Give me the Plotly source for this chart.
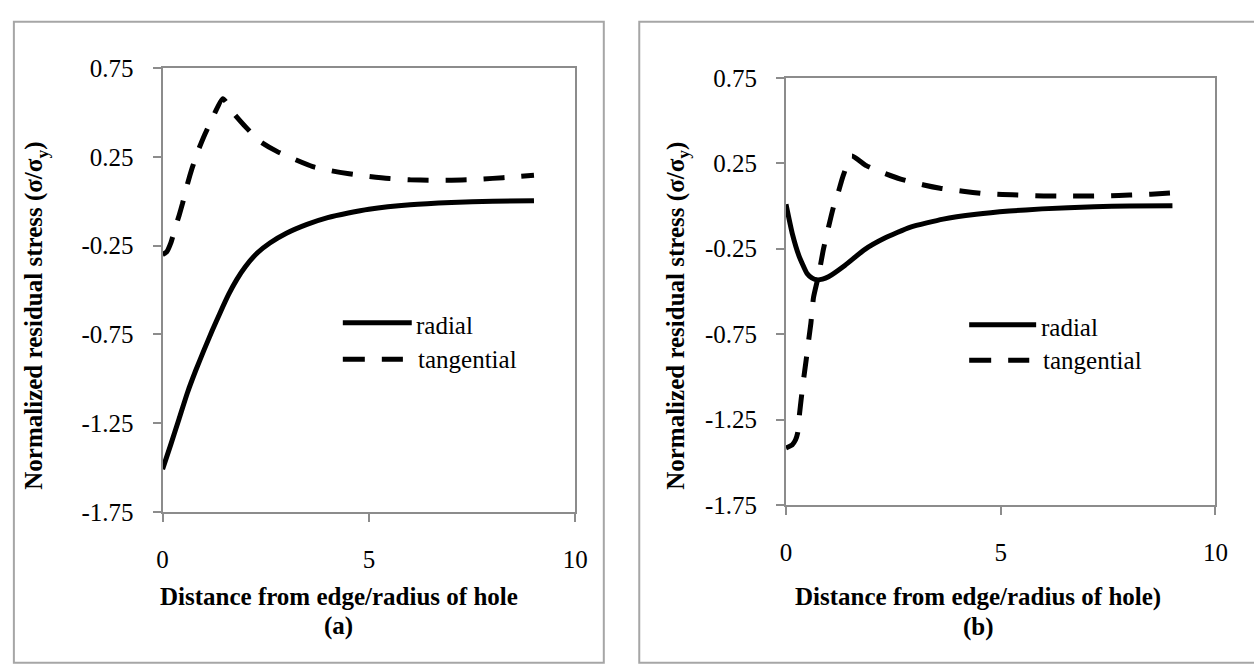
import plotly.graph_objects as go

# ---------------- data ----------------
# panel (a)
a_radial_x = [0, 0.2, 0.4, 0.6, 0.8, 1.0, 1.2, 1.4, 1.6, 1.8, 2.0, 2.3, 2.6, 3.0, 3.5, 4.0, 4.5, 5.0, 6.0, 7.0, 8.0, 9.0]
a_radial_y = [-1.51, -1.37, -1.225, -1.08, -0.955, -0.84, -0.73, -0.625, -0.525, -0.44, -0.37, -0.29, -0.235, -0.18,
              -0.13, -0.092, -0.066, -0.045, -0.02, -0.007, 0.0, 0.003]

a_tang_x = [0, 0.1, 0.2, 0.3, 0.4, 0.48, 0.6, 0.72, 0.86, 1.02, 1.2, 1.46, 1.73, 2.04, 2.37, 2.77, 3.21, 3.64,
            4.08, 4.52, 5.0, 5.5, 6.0, 6.5, 7.0, 7.5, 8.0, 8.5, 9.0]
a_tang_y = [-0.30, -0.285, -0.235, -0.155, -0.08, -0.015, 0.095, 0.19, 0.285, 0.375, 0.465, 0.578, 0.493, 0.412, 0.336,
            0.281, 0.235, 0.195, 0.172, 0.155, 0.140, 0.128, 0.121, 0.119, 0.119, 0.122, 0.129, 0.137, 0.146]

# panel (b)
b_radial_x = [0, 0.145, 0.30, 0.49, 0.6, 0.72, 0.85, 0.99, 1.37, 1.83, 2.29, 2.90, 3.66, 4.43, 5.2, 5.96, 7.18, 8.0, 9.0]
b_radial_y = [0.01, -0.16, -0.29, -0.395, -0.42, -0.432, -0.428, -0.414, -0.348, -0.255, -0.189, -0.124, -0.077,
              -0.049, -0.030, -0.017, -0.005, 0.0, 0.002]

b_tang_x = [0, 0.145, 0.22, 0.27, 0.31, 0.36, 0.41, 0.47, 0.53, 0.58, 0.64, 0.76, 0.87, 0.99, 1.10, 1.22, 1.33, 1.53,
            1.87, 2.29, 2.67, 3.21, 3.59, 4.12, 4.58, 5.04, 5.5, 6.0, 6.5, 7.0, 7.5, 8.0, 8.5, 9.0]
b_tang_y = [-1.415, -1.397, -1.369, -1.33, -1.228, -1.116, -1.013, -0.90, -0.78, -0.685, -0.536, -0.404, -0.255,
            -0.124, -0.011, 0.082, 0.176, 0.292, 0.236, 0.191, 0.157, 0.123, 0.104, 0.086, 0.073, 0.067, 0.063,
            0.059, 0.058, 0.058, 0.060, 0.064, 0.069, 0.076]

y_tickvals = [-1.75, -1.25, -0.75, -0.25, 0.25, 0.75]
y_ticktext = ["-1.75", "-1.25", "-0.75", "-0.25", "0.25", "0.75"]
x_tickvals = [0, 5, 10]
x_ticktext = ["0", "5", "10"]

series_names = ["radial", "tangential"]
y_title = "Normalized residual stress (σ/σ<sub>y</sub>)"
x_title_a = "Distance from edge/radius of hole"
x_title_b = "Distance from edge/radius of hole)"
panel_labels = ["(a)", "(b)"]

# ---------------- layout helpers ----------------
W, H = 1254, 664
def px(x):
    return x / W
def py(y):
    return 1 - y / H

SERIF = "Liberation Serif"
FS = 25
AX_COLOR = "#8c8c8c"
BOX_COLOR = "#a6a6a6"
DASH = "21px,17px"
SHAPE = dict(shape="spline", smoothing=0.5)

fig = go.Figure()

fig.add_trace(go.Scatter(x=a_radial_x, y=a_radial_y, mode="lines", name=series_names[0],
                         line=dict(color="black", width=5, **SHAPE), xaxis="x", yaxis="y", showlegend=False))
fig.add_trace(go.Scatter(x=a_tang_x, y=a_tang_y, mode="lines", name=series_names[1],
                         line=dict(color="black", width=5, dash=DASH, **SHAPE), xaxis="x", yaxis="y", showlegend=False))
fig.add_trace(go.Scatter(x=b_radial_x, y=b_radial_y, mode="lines", name=series_names[0],
                         line=dict(color="black", width=5, **SHAPE), xaxis="x2", yaxis="y2", showlegend=False))
fig.add_trace(go.Scatter(x=b_tang_x, y=b_tang_y, mode="lines", name=series_names[1],
                         line=dict(color="black", width=5, dash=DASH, **SHAPE), xaxis="x2", yaxis="y2", showlegend=False))

common_x = dict(range=[0, 10], tickvals=x_tickvals, ticktext=x_ticktext, showgrid=False, zeroline=False,
                showline=True, linecolor=AX_COLOR, linewidth=2, mirror=True,
                ticks="outside", ticklen=8, tickwidth=2, tickcolor=AX_COLOR,
                tickfont=dict(family=SERIF, size=FS, color="black"), ticklabelstandoff=16)
common_y = dict(range=[-1.75, 0.75], tickvals=y_tickvals, ticktext=y_ticktext, showgrid=False, zeroline=False,
                showline=True, linecolor=AX_COLOR, linewidth=2, mirror=True,
                ticks="outside", ticklen=8, tickwidth=2, tickcolor=AX_COLOR,
                tickfont=dict(family=SERIF, size=FS, color="black"), ticklabelstandoff=14)

fig.update_layout(
    width=W, height=H, autosize=False,
    margin=dict(l=0, r=0, t=0, b=0),
    paper_bgcolor="white", plot_bgcolor="white",
    showlegend=False,
    xaxis=dict(domain=[px(159), px(578)], anchor="y", **common_x),
    yaxis=dict(domain=[py(520), py(57.5)], anchor="x", **common_y),
    xaxis2=dict(domain=[px(792), px(1228)], anchor="y2", **common_x),
    yaxis2=dict(domain=[py(513), py(67.5)], anchor="x2", **common_y),
)

shapes = []
# outer panel boxes
shapes.append(dict(type="rect", xref="paper", yref="paper", x0=px(8), x1=px(607), y0=-0.02, y1=py(9),
                   line=dict(color=BOX_COLOR, width=2), fillcolor="rgba(0,0,0,0)", layer="below"))
shapes.append(dict(type="rect", xref="paper", yref="paper", x0=px(643), x1=1.02, y0=-0.02, y1=py(9),
                   line=dict(color=BOX_COLOR, width=2), fillcolor="rgba(0,0,0,0)", layer="below"))

annotations = []
def legend(x_line0, x_line1, y_rad, y_tan, x_text):
    shapes.append(dict(type="line", xref="paper", yref="paper", x0=px(x_line0), x1=px(x_line1),
                       y0=py(y_rad), y1=py(y_rad), line=dict(color="black", width=5)))
    shapes.append(dict(type="line", xref="paper", yref="paper", x0=px(x_line0), x1=px(x_line0 + 61),
                       y0=py(y_tan), y1=py(y_tan), line=dict(color="black", width=5, dash="22px,17px")))
    annotations.append(dict(text=series_names[0], x=px(x_text), y=py(y_rad + 3), xref="paper", yref="paper",
                            xanchor="left", yanchor="middle", showarrow=False,
                            font=dict(family=SERIF, size=FS, color="black")))
    annotations.append(dict(text=series_names[1], x=px(x_text + 2), y=py(y_tan), xref="paper", yref="paper",
                            xanchor="left", yanchor="middle", showarrow=False,
                            font=dict(family=SERIF, size=FS, color="black")))

legend(342, 412, 323, 361, 414)
legend(978, 1046, 325, 362, 1049)

def txt(text, x, y, angle=0):
    annotations.append(dict(text="<b>" + text + "</b>", x=px(x), y=py(y), xref="paper", yref="paper",
                            xanchor="center", yanchor="middle", showarrow=False, textangle=angle,
                            font=dict(family=SERIF, size=FS, color="black")))

txt(y_title, 30, 316, -90)
txt(y_title, 681, 316, -90)
txt(x_title_a, 338, 608)
txt(panel_labels[0], 338, 639)
txt(x_title_b, 987, 609)
txt(panel_labels[1], 987, 640)

fig.update_layout(shapes=shapes, annotations=annotations)
fig.write_html("out.html")
